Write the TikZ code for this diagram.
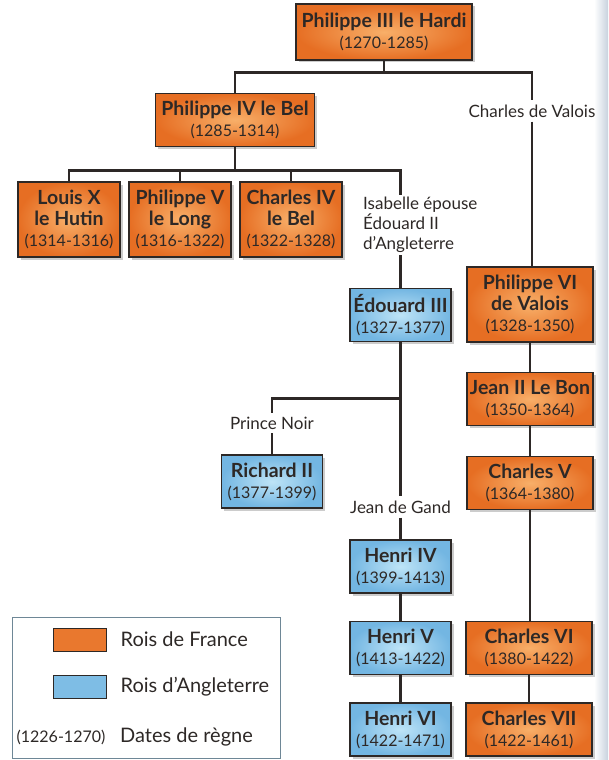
\documentclass[tikz,border=0pt]{standalone}
\usepackage{fontspec}
\setmainfont{Lato}
\usetikzlibrary{positioning,shadows}

\definecolor{frin}{RGB}{248,175,105}
\definecolor{frout}{RGB}{230,110,35}
\definecolor{enin}{RGB}{190,228,247}
\definecolor{enout}{RGB}{115,182,226}
\definecolor{ink}{RGB}{45,40,38}
\definecolor{legline}{RGB}{110,135,150}
\definecolor{edge}{RGB}{200,210,222}

\newcommand{\nom}[1]{{\fontsize{19.5}{21}\selectfont\bfseries #1}}
\newcommand{\roi}[2]{\nom{#1}\\(#2)}

\tikzset{
	king/.style={draw=ink, line width=1.3pt, align=center, inner sep=0pt, text=ink,
		font=\fontsize{16}{21}\selectfont, minimum height=53pt,
		drop shadow={shadow xshift=2.5pt, shadow yshift=-2.5pt, fill=black!20, opacity=1}},
	fr/.style={king, shade, inner color=frin, outer color=frout, minimum width=126pt},
	en/.style={king, shade, inner color=enin, outer color=enout, minimum width=101pt},
	tag/.style={text=ink, inner sep=0pt, font=\fontsize{17}{20}\selectfont},
	gap/.style={tag, inner ysep=4pt},
	leg/.style={tag, font=\fontsize{20}{22}\selectfont},
	link/.style={draw=ink, line width=2.8pt},
}

\begin{document}
\begin{tikzpicture}[x=1pt, y=-1pt]
	\useasboundingbox (0,0) rectangle (608,760);
	\shade[left color=white, right color=edge] (594,0) rectangle (608,760);

	\node[fr, minimum width=176pt, minimum height=56pt] (ph3) at (384,32) {\roi{Philippe III le Hardi}{1270-1285}};
	\node[fr, minimum width=159pt] (ph4) at (235,120) {\roi{Philippe IV le Bel}{1285-1314}};
	\node[fr, minimum width=102pt, minimum height=75pt] (lo10) at (69,219.5) {\nom{Louis X}\\\roi{le Hutin}{1314-1316}};
	\node[fr, minimum width=102pt, minimum height=75pt] (ph5) at (180,219.5) {\nom{Philippe V}\\\roi{le Long}{1316-1322}};
	\node[fr, minimum width=102pt, minimum height=75pt] (ch4) at (291,219.5) {\nom{Charles IV}\\\roi{le Bel}{1322-1328}};
	\node[tag, align=left, anchor=north west, inner ysep=2pt] (isabelle) at (363,195) {Isabelle épouse\\Édouard II\\d’Angleterre};
	\node[en] (ed3) at (400.5,315) {\roi{Édouard III}{1327-1377}};
	\node[gap] (noir) at (272,423) {Prince Noir};
	\node[en] (ri2) at (272,481.5) {\roi{Richard II}{1377-1399}};
	\node[gap] (gand) at (400.5,507) {Jean de Gand};
	\node[en] (he4) at (400.5,566.5) {\roi{Henri IV}{1399-1413}};
	\node[en] (he5) at (400.5,648) {\roi{Henri V}{1413-1422}};
	\node[en] (he6) at (400.5,729.5) {\roi{Henri VI}{1422-1471}};

	\node[gap] (valois) at (532,111) {Charles de Valois};
	\node[fr, minimum height=75pt] (ph6) at (530,304.5) {\nom{Philippe VI}\\\roi{de Valois}{1328-1350}};
	\node[fr] (jn2) at (530,399) {\roi{Jean II Le Bon}{1350-1364}};
	\node[fr] (ch5) at (530,483) {\roi{Charles V}{1364-1380}};
	\node[fr] (ch6) at (529,648) {\roi{Charles VI}{1380-1422}};
	\node[fr] (ch7) at (529,729.5) {\roi{Charles VII}{1422-1461}};

	\draw[link] (ph3.south) -- ++(0,12) coordinate (j1);
	\draw[link] (ph4.north) |- (j1) -| (valois.north);
	\draw[link] (ph4.south) -- ++(0,23) coordinate (j2);
	\coordinate (isatop) at (ed3.north |- isabelle.north);
	\coordinate (isabot) at (ed3.north |- isabelle.south);
	\draw[link] (lo10.north) |- (j2) -| (isatop);
	\draw[link] (ph5.north) -- (ph5.north |- j2);
	\draw[link] (ch4.north) -- (ch4.north |- j2);
	\draw[link] (isabot) -- (ed3.north);
	\draw[link] (ed3.south) -- ++(0,56) coordinate (j3);
	\draw[link] (noir.north) |- (j3) -- (gand.north);
	\draw[link] (noir.south) -- (ri2.north);
	\draw[link] (gand.south) -- (he4.north);
	\draw[link] (he4) -- (he5);
	\draw[link] (he5) -- (he6);
	\draw[link] (valois.south) -- (valois.south |- ph6.north);
	\draw[link] (ph6) -- (jn2);
	\draw[link] (jn2) -- (ch5);
	\draw[link] (ch5.south) -- (ch5.south |- ch6.north);
	\draw[link] (ch6) -- (ch7);

	% legende
	\node[draw=legline, line width=1pt, minimum width=268pt, minimum height=141pt, inner sep=0pt] (legend) at (146,687.5) {};
	\node[draw=ink, line width=0.8pt, fill=frout!85!frin, minimum width=53pt, minimum height=23pt, inner sep=0pt] (swfr) at (79.5,639.5) {};
	\node[draw=ink, line width=0.8pt, fill=enout!85!enin, minimum width=53pt, minimum height=23pt, inner sep=0pt] (swen) at (79.5,687) {};
	\node[leg, right=14pt of swfr] (lgfr) {Rois de France};
	\node[leg, right=14pt of swen] (lgen) {Rois d’Angleterre};
	\node[tag, font=\fontsize{16}{20}\selectfont] (lgdate) at (61,737) {(1226-1270)};
	\node[leg, anchor=west] (lgreg) at (120,737) {Dates de règne};
\end{tikzpicture}
\end{document}
